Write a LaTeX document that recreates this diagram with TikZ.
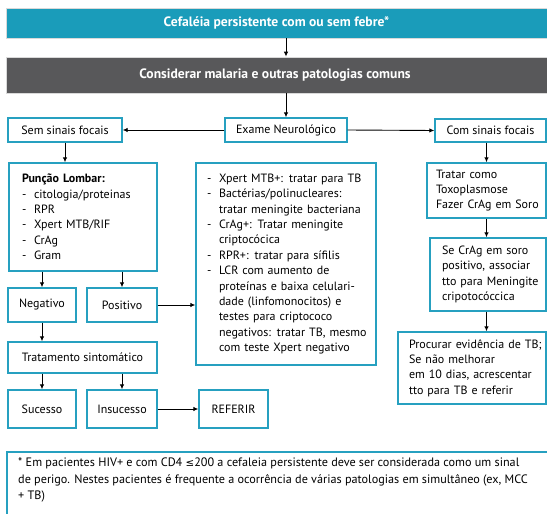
\documentclass[tikz,border=0pt]{standalone}
\usepackage{fontspec}
\setmainfont{PT Sans}
\newfontfamily\symfont{DejaVu Sans}
\usetikzlibrary{arrows.meta}

\definecolor{boxline}{RGB}{38,160,192}
\definecolor{bannerfill}{RGB}{26,156,186}
\definecolor{barfill}{RGB}{88,88,90}

% list helpers: dash with hanging indent
\newcommand\itemdash{\makebox[12pt][l]{-}}
\newcommand\itemcont{\hspace*{12pt}}

\begin{document}
\begin{tikzpicture}[x=1pt,y=-1pt,
  box/.style={draw=boxline, line width=1.4pt, fill=white, inner sep=0pt,
    font=\fontsize{12pt}{15.4pt}\selectfont},
  textbox/.style={box, align=left, inner xsep=#1, inner ysep=0pt},
  banner/.style={fill=bannerfill, draw=black!15, line width=0.8pt, inner sep=0pt,
    text=white, font=\fontsize{13.6pt}{16pt}\selectfont\bfseries},
  arr/.style={-{Latex[length=5pt,width=4.5pt]}, line width=0.9pt},
]
\clip (0,0) rectangle (547,514);

% header bands
\node[banner, minimum width=544, minimum height=30] (head) at (278,23)
  {\hspace*{-3pt}Cefaléia persistente com ou sem febre*};
\node[banner, fill=barfill, minimum width=544, minimum height=36] (malaria) at (278,75)
  {\hspace*{-6pt}Considerar malaria e outras patologias comuns};

% neurological exam and the two branches
\node[box, minimum width=122, minimum height=24] (exame) at (286,130) {Exame Neurológico};
\node[box, minimum width=114, minimum height=24] (sem) at (65,130) {Sem sinais focais};
\node[box, minimum width=111, minimum height=23] (com) at (490.5,130.5) {Com sinais focais};

% lumbar puncture branch
\node[textbox=13pt, text width=122, minimum height=108] (puncao) at (83,217)
  {\mbox{\bfseries Punção Lombar:}\\
   \mbox{\itemdash citologia/proteinas}\\
   \mbox{\itemdash RPR}\\
   \mbox{\itemdash Xpert MTB/RIF}\\
   \mbox{\itemdash CrAg}\\
   \mbox{\itemdash Gram}};

\node[textbox=11pt, text width=158, minimum height=202] (resultado) at (286,264)
  {\mbox{\itemdash Xpert MTB+: tratar para TB}\\
   \mbox{\itemdash Bactérias/polinucleares:}\\
   \mbox{\itemcont tratar meningite bacteriana}\\
   \mbox{\itemdash CrAg+: Tratar meningite}\\
   \mbox{\itemcont criptocócica}\\
   \mbox{\itemdash RPR+: tratar para sífilis}\\
   \mbox{\itemdash LCR com aumento de}\\
   \mbox{\itemcont proteínas e baixa celulari-}\\
   \mbox{\itemcont dade (linfomonocitos) e}\\
   \mbox{\itemcont testes para criptococo}\\
   \mbox{\itemcont negativos: tratar TB, mesmo}\\
   \mbox{\itemcont com teste Xpert negativo}};

\node[box, minimum width=68, minimum height=34] (neg) at (42,305) {Negativo};
\node[box, minimum width=70, minimum height=34] (pos) at (122,305) {Positivo};
\node[box, minimum width=149, minimum height=31] (sint) at (82.5,357.5) {Tratamento sintomático};
\node[box, minimum width=68, minimum height=38] (suc) at (42,409) {Sucesso};
\node[box, minimum width=70, minimum height=38] (insuc) at (122,409) {Insucesso};
\node[box, minimum width=69, minimum height=38] (ref) at (233.5,409) {REFERIR};

% focal signs branch
\node[textbox=9pt, text width=101, minimum height=55] (toxo) at (486.5,190.5)
  {\mbox{Tratar como}\\ \mbox{Toxoplasmose}\\ \mbox{Fazer CrAg em Soro}};
\node[textbox=12pt, text width=92, minimum height=73] (crag) at (488,274.5)
  {\mbox{Se CrAg em soro}\\ \mbox{positivo, associar}\\ \mbox{tto para Meningite}\\ \mbox{cripotocóccica}};
\node[textbox=11pt, text width=126, minimum height=72] (tb) at (472,368)
  {\mbox{Procurar evidência de TB;}\\ \mbox{Se não melhorar}\\ \mbox{em 10 dias, acrescentar}\\ \mbox{tto para TB e referir}};

% footnote panel
\draw[draw=boxline, line width=1.4pt] (7,560) -- (7,452) -- (560,452);
\node[anchor=north west, align=left, inner sep=0pt,
  font=\fontsize{12.2pt}{16.5pt}\selectfont] (nota) at (18,458)
  {\mbox{* Em pacientes HIV+ e com CD4 {\symfont\fontsize{10.3pt}{16.5pt}\selectfont ≤}200 a cefaleia persistente deve ser considerada como um sinal}\\
   \mbox{de perigo. Nestes pacientes é frequente a ocorrência de várias patologias em simultâneo (ex, MCC}\\
   \mbox{+ TB)}};

% connectors
\draw[arr] (head.south -| exame.north) -- (malaria.north -| exame.north);
\draw[arr] (malaria.south -| exame.north) -- (exame.north);
\draw[arr] (exame.west) -- (sem.east);
\draw[arr] (exame.east) -- (com.west);
\draw[arr] (sem.south) -- (sem.south |- puncao.north);
\draw[arr] (neg.north |- puncao.south) -- (neg.north);
\draw[arr] (pos.north |- puncao.south) -- (pos.north);
\draw[arr] (pos.east) -- (pos.east -| resultado.west);
\draw[arr] (neg.south) -- (neg.south |- sint.north);
\draw[arr] (suc.north |- sint.south) -- (suc.north);
\draw[arr] (insuc.north |- sint.south) -- (insuc.north);
\draw[arr] (insuc.east) -- (ref.west);
\draw[arr] (com.south -| toxo.north) -- (toxo.north);
\draw[arr] (toxo.south) -- (toxo.south |- crag.north);
\draw[arr] (toxo.south |- crag.south) -- (toxo.south |- tb.north);
\end{tikzpicture}
\end{document}
